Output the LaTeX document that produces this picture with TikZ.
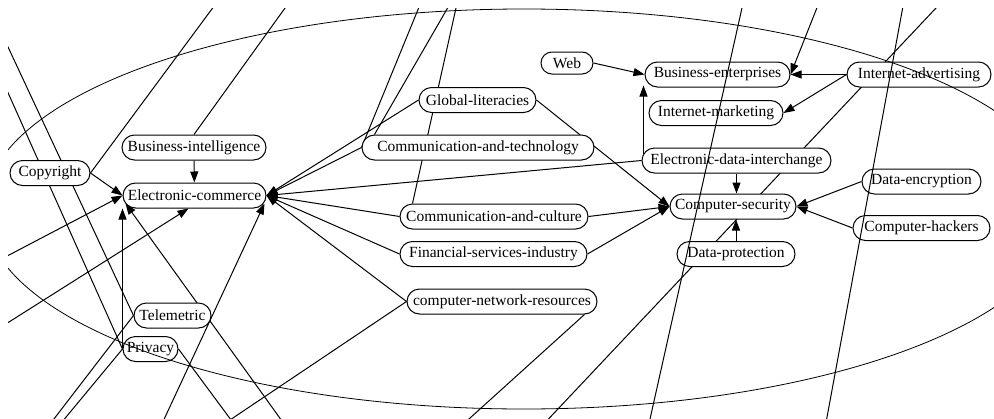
\documentclass[tikz,border=0pt]{standalone}
\usepackage{fontspec}
\setmainfont{Liberation Serif}
\usetikzlibrary{arrows.meta,shapes.misc,calc,backgrounds}
\begin{document}
\begin{tikzpicture}[x=1pt,y=-1pt,line width=1pt,
  nd/.style={rounded rectangle,draw,fill=white,minimum height=25pt,inner xsep=2pt,inner ysep=0pt,
    font=\fontsize{15.5}{18}\selectfont},
  ln/.style={line width=1pt},
  arr/.style={ln,-{Triangle[length=11pt,width=8pt]}}]
\useasboundingbox (0,0) rectangle (994,418);
% nodes
\node[nd,minimum width=84pt]  (copy) at (50,173)    {Copyright};
\node[nd,minimum width=148pt] (bi)   at (194,147.5) {Business-intelligence};
\node[nd,minimum width=147pt] (ec)   at (194.5,195.5) {Electronic-commerce};
\node[nd,minimum width=56pt,minimum height=22pt] (web) at (567,63) {Web};
\node[nd,minimum width=121pt] (gl)   at (477.5,100) {Global-literacies};
\node[nd,minimum width=236pt] (cat)  at (478,147.5) {Communication-and-technology};
\node[nd,minimum width=149pt] (be)   at (717.5,74.5) {Business-enterprises};
\node[nd,minimum width=148pt] (ia)   at (919,74.5)  {Internet-advertising};
\node[nd,minimum width=138pt] (im)   at (716,113)   {Internet-marketing};
\node[nd,minimum width=193pt] (edi)  at (736.5,160.5) {Electronic-data-interchange};
\node[nd,minimum width=123pt] (de)   at (921.5,181.5) {Data-encryption};
\node[nd,minimum width=130pt] (cs)   at (733,206.5) {Computer-security};
\node[nd,minimum width=141pt] (ch)   at (921.5,228) {Computer-hackers};
\node[nd,minimum width=122pt] (dp)   at (736,254)   {Data-protection};
\node[nd,minimum width=192pt] (cac)  at (494,216.5) {Communication-and-culture};
\node[nd,minimum width=191pt] (fsi)  at (493.5,254) {Financial-services-industry};
\node[nd,minimum width=194pt] (cnr)  at (502,301.5) {computer-network-resources};
\node[nd,minimum width=81pt]  (tel)  at (172.5,315.5) {Telemetric};
\node[nd,minimum width=59pt]  (pri)  at (150.5,349) {Privacy};
% free ends
\coordinate (t1) at (226,-10);
\coordinate (t2) at (298,-10);
\coordinate (t3) at (426,-10);
\coordinate (t4) at (458,-10);
\coordinate (t5) at (460,-10);
\coordinate (t6) at (746,-10);
\coordinate (t7) at (906,-10);
\coordinate (t8) at (953,-10);
\coordinate (t9) at (824,-10);
\coordinate (l1) at (-20,-13);
\coordinate (l2) at (-20,30);
\coordinate (l3) at (-10,265);
\coordinate (l4) at (-10,334);
\coordinate (b1) at (47,428);
\coordinate (b2) at (57,428);
\coordinate (b3) at (160,428);
\coordinate (b4) at (237,428);
\coordinate (b5) at (218,428);
\coordinate (b6) at (287,428);
\coordinate (b7) at (459,428);
\coordinate (b8) at (540,428);
\coordinate (b9) at (648,428);
\coordinate (b10) at (825,428);
\begin{scope}[on background layer]
 \begin{scope}[line width=1pt]
  \clip (8,8) rectangle (994,418);
  % arrows
  \draw[arr] (bi) -- (ec);
  \draw[arr] (copy.east) -- (ec.west);
  \draw[arr] (l3) -- (ec.west);
  \draw[arr] (l4) -- ($(ec.south)+(-6,0)$);
  \draw[arr] (pri.west) -- (pri.west |- ec.south);
  \draw[arr] (b6) -- ($(ec.west)+(3,8)$);
  \draw[arr] (b3) -- ($(ec.east)+(-2,8)$);
  \draw[arr] (gl.west) -- (ec.east);
  \draw[arr] (cat.west) -- (ec.east);
  \draw[arr] (edi.west) -- (ec.east);
  \draw[arr] (cac.west) -- (ec.east);
  \draw[arr] (fsi.west) -- (ec.east);
  \draw[arr] (cnr.west) -- (ec.east);
  \draw[arr] (gl.east) -- (cs.west);
  \draw[arr] (cac.east) -- (cs.west);
  \draw[arr] (fsi.east) -- (cs.west);
  \draw[arr] (edi.south) -- (edi.south |- cs.north);
  \draw[arr] (dp.north) -- (dp.north |- cs.south);
  \draw[arr] (de.west) -- (cs.east);
  \draw[arr] (ch.west) -- (cs.east);
  \draw[arr] (web.east) -- (be.west);
  \draw[arr] ($(edi.west)+(2,-7)$) -- ($(edi.west)+(2,-75)$);
  \draw[arr] (ia.west) -- (be.east);
  \draw[arr] (ia.west) -- (im.east);
  \draw[arr] (t9) -- (be.east);
  % stray edges behind nodes
  \draw[ln] (t1) -- (copy.east);
  \draw[ln] (t2) -- (bi.north);
  \draw[ln] (t3) -- (cat.west);
  \draw[ln] (t4) -- (cat.north west);
  \draw[ln] (t5) -- (cac.north west);
  \draw[ln] (t8) -- (b8);
  \draw[ln] (l1) -- (tel.west);
  \draw[ln] (l2) -- (pri.west);
  \draw[ln] (tel.west) -- (b1);
  \draw[ln] (pri.west) -- (b2);
  \draw[ln] (pri.east) -- (b4);
  \draw[ln] (cnr.west) -- (b5);
  \draw[ln] (cnr.south east) -- (b7);
 \end{scope}
\end{scope}
\begin{scope}
  \clip (8,8) rectangle (994,418);
  \draw[ln] (t6) -- (b9);
  \draw[ln] (t7) -- (b10);
  \draw[line width=0.8pt] (524,209) ellipse [x radius=540pt, y radius=200pt];
\end{scope}
\end{tikzpicture}
\end{document}
